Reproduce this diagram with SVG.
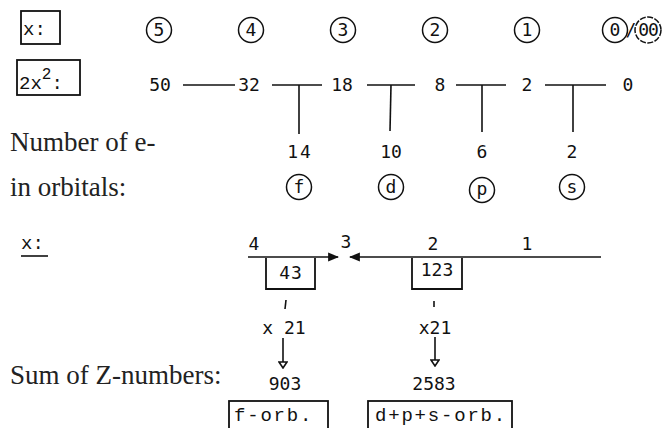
<svg xmlns="http://www.w3.org/2000/svg" width="666" height="428" viewBox="0 0 666 428">
  <defs>
    <style>
      .mono { font-family: "DejaVu Sans Mono", "Liberation Mono", monospace; font-size: 18px; fill: #111; }
      .tt { font-family: "Liberation Mono", "DejaVu Sans Mono", monospace; font-size: 19px; fill: #111; }
      .serif { font-family: "Liberation Serif", "DejaVu Serif", serif; font-size: 27px; fill: #222; }
      .ln { stroke: #111; stroke-width: 1.6; fill: none; }
      .ring { stroke: #111; stroke-width: 1.5; fill: none; }
      .box { stroke: #111; stroke-width: 1.8; fill: none; }
    </style>
    <marker id="headSolid" viewBox="0 0 10 10" refX="9" refY="5" markerWidth="11" markerHeight="11" markerUnits="userSpaceOnUse" orient="auto">
      <path d="M0,1 L10,5 L0,9 Z" fill="#111"/>
    </marker>
    <marker id="headDown" viewBox="0 0 10 10" refX="5" refY="9" markerWidth="10" markerHeight="10" markerUnits="userSpaceOnUse" orient="0">
      <path d="M1,3 L9,3 L5,9 Z" fill="#fff" stroke="#111" stroke-width="1.6"/>
    </marker>
  </defs>

  <!-- row labels -->
  <g id="label-x">
    <rect class="box" x="21" y="11" width="39" height="33"/>
    <text class="tt" x="23" y="35">x:</text>
  </g>
  <g id="label-2x2">
    <rect class="box" x="17" y="60" width="63" height="35"/>
    <text class="tt" x="19" y="89">2x<tspan dy="-10" font-size="16">2</tspan><tspan dy="10">:</tspan></text>
  </g>

  <!-- shell numbers x -->
  <g id="shells" text-anchor="middle">
    <g id="shell-5"><circle class="ring" cx="159" cy="30" r="12.5"/><text class="mono" x="159" y="36">5</text></g>
    <g id="shell-4"><circle class="ring" cx="251" cy="30" r="12.5"/><text class="mono" x="251" y="36">4</text></g>
    <g id="shell-3"><circle class="ring" cx="343" cy="30" r="12.5"/><text class="mono" x="343" y="36">3</text></g>
    <g id="shell-2"><circle class="ring" cx="435" cy="30" r="12.5"/><text class="mono" x="435" y="36">2</text></g>
    <g id="shell-1"><circle class="ring" cx="527" cy="30" r="12.5"/><text class="mono" x="527" y="36">1</text></g>
    <g id="shell-0">
      <circle class="ring" cx="615" cy="30" r="12.5"/>
      <circle class="ring" cx="648" cy="30" r="13" stroke-dasharray="6 1.5"/>
      <text class="mono" x="615" y="36">0</text>
      <text class="mono" x="631" y="36">/</text>
      <text class="mono" x="648" y="36" letter-spacing="-1">00</text>
    </g>
  </g>

  <!-- 2x^2 values -->
  <g id="capacities" text-anchor="middle">
    <text class="mono" x="160" y="91">50</text>
    <text class="mono" x="249" y="91">32</text>
    <text class="mono" x="342" y="91">18</text>
    <text class="mono" x="440" y="91">8</text>
    <text class="mono" x="527" y="91">2</text>
    <text class="mono" x="628" y="91">0</text>
  </g>

  <!-- orbital electron counts -->
  <g id="orbital-counts" text-anchor="middle">
    <text class="mono" x="300" y="158" letter-spacing="2">14</text>
    <text class="mono" x="391" y="158">10</text>
    <text class="mono" x="482" y="158">6</text>
    <text class="mono" x="572" y="158">2</text>
  </g>
  <g id="orbitals" text-anchor="middle">
    <g id="orb-f"><circle class="ring" cx="299" cy="187" r="12.5"/><text class="mono" x="299" y="193">f</text></g>
    <g id="orb-d"><circle class="ring" cx="391" cy="187" r="12.5"/><text class="mono" x="391" y="193">d</text></g>
    <g id="orb-p"><circle class="ring" cx="482" cy="190" r="12.5"/><text class="mono" x="482" y="195">p</text></g>
    <g id="orb-s"><circle class="ring" cx="572" cy="187" r="12.5"/><text class="mono" x="572" y="193">s</text></g>
  </g>

  <text class="serif" x="10" y="151">Number of e-</text>
  <text class="serif" x="10" y="196">in orbitals:</text>

  <!-- second x axis -->
  <g id="label-x-axis">
    <text class="tt" x="21" y="249">x:</text>
    <line class="ln" x1="21" y1="256" x2="48" y2="256"/>
  </g>
  <g id="axis-labels" text-anchor="middle">
    <text class="mono" x="254" y="250">4</text>
    <text class="mono" x="346" y="248">3</text>
    <text class="mono" x="433" y="250">2</text>
    <text class="mono" x="527" y="250">1</text>
  </g>

  <g id="group-43">
    <path class="box" d="M266,258 V289 H315 V258"/>
    <text class="mono" x="291" y="279" text-anchor="middle" letter-spacing="1">43</text>
  </g>
  <g id="group-123">
    <path class="box" d="M412,258 V289 H462 V258"/>
    <text class="mono" x="437" y="276" text-anchor="middle">123</text>
  </g>

  <g id="mult-f" text-anchor="middle"><text class="mono" x="284" y="334">x 21</text></g>
  <g id="mult-dps" text-anchor="middle"><text class="mono" x="435" y="334">x21</text></g>

  <text class="serif" x="10" y="384">Sum of Z-numbers:</text>
  <g id="sum-f"><text class="mono" x="285" y="390" text-anchor="middle">903</text></g>
  <g id="sum-dps"><text class="mono" x="434" y="390" text-anchor="middle">2583</text></g>

  <g id="result-f">
    <rect class="box" x="229" y="401" width="99" height="40"/>
    <text class="tt" x="234" y="421" font-size="18" letter-spacing="1.8">f-orb.</text>
  </g>
  <g id="result-dps">
    <rect class="box" x="368" y="401" width="144" height="40"/>
    <text class="tt" x="375" y="421" font-size="18" letter-spacing="1.8">d+p+s-orb.</text>
  </g>

  <!-- connectors -->
  <g id="connectors">
    <line class="ln" x1="183" y1="85" x2="235" y2="85"/>
    <line class="ln" x1="272" y1="85" x2="322" y2="85"/>
    <line class="ln" x1="367" y1="85" x2="415" y2="85"/>
    <line class="ln" x1="456" y1="85" x2="506" y2="85"/>
    <line class="ln" x1="545" y1="85" x2="606" y2="85"/>

    <line class="ln" x1="299" y1="85" x2="299" y2="134"/>
    <line class="ln" x1="391" y1="85" x2="390" y2="131"/>
    <line class="ln" x1="482" y1="85" x2="482" y2="132"/>
    <line class="ln" x1="573" y1="85" x2="573" y2="132"/>

    <line class="ln" x1="248" y1="257" x2="338" y2="257" marker-end="url(#headSolid)"/>
    <line class="ln" x1="601" y1="257" x2="350" y2="257" marker-end="url(#headSolid)"/>

    <line class="ln" x1="286" y1="300" x2="285" y2="309"/>
    <line class="ln" x1="434" y1="301" x2="434" y2="307"/>

    <line class="ln" x1="283" y1="338" x2="283" y2="368" marker-end="url(#headDown)"/>
    <line class="ln" x1="435" y1="337" x2="435" y2="366" marker-end="url(#headDown)"/>
  </g>
</svg>
